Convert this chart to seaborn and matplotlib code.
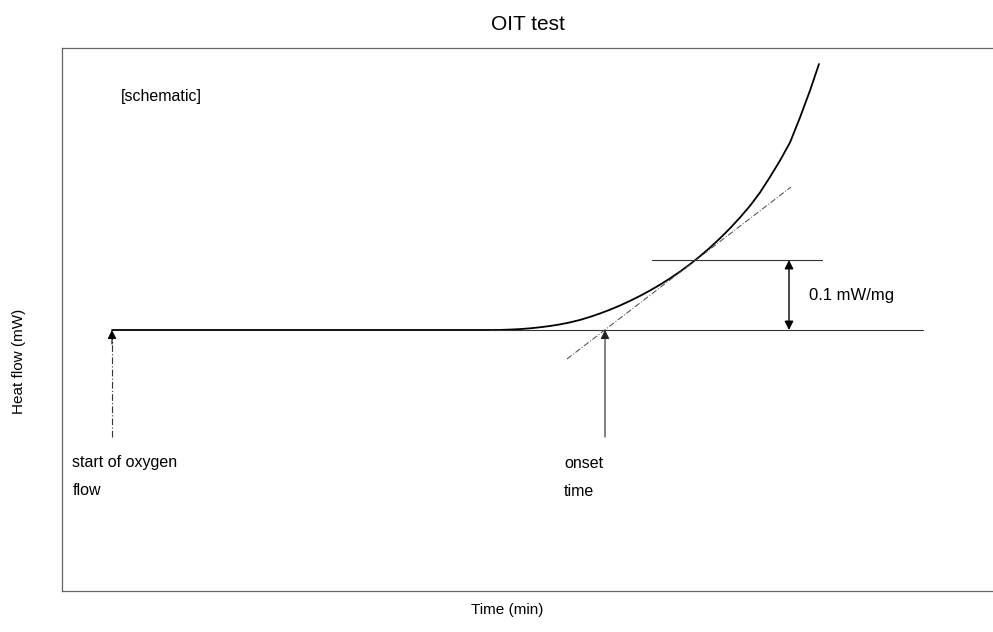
import numpy as np
import pandas as pd
import matplotlib
matplotlib.use("Agg")
import matplotlib.pyplot as plt
import seaborn as sns

# Schematic OIT (oxidation induction time) DSC trace
time_min = [0.0, 18.9, 19.4, 19.9, 20.4, 20.9, 21.4, 21.9, 22.4, 22.9, 23.4,
            23.9, 24.4, 24.9, 25.4, 25.9, 26.4, 26.9, 27.4, 27.9, 28.4, 28.9,
            29.4, 29.9, 30.4, 30.9, 31.4, 31.9, 32.4, 32.9, 33.4, 33.9, 34.4,
            34.9, 35.35]
heat_flow = [0.0, 0.0, 0.0001, 0.0006, 0.0013, 0.0024, 0.0039, 0.0057, 0.0080,
             0.0109, 0.0144, 0.0187, 0.0236, 0.0290, 0.0350, 0.0416, 0.0487,
             0.0564, 0.0647, 0.0737, 0.0834, 0.0940, 0.1054, 0.1177, 0.1310,
             0.1453, 0.1607, 0.1774, 0.1964, 0.2186, 0.2421, 0.2679, 0.3036,
             0.3421, 0.3800]

# construction lines
baseline_x = [18.9, 40.55]
baseline_y = [0.0, 0.0]
tangent_x = [22.75, 33.95]
tangent_y = [-0.0414, 0.2043]
offset_x = [27.0, 35.5]
offset_y = [0.1, 0.1]
offset_level = 0.1
offset_arrow_x = 33.85

oxygen_start = 0.0
onset_time = 24.65
arrow_bottom = -0.153

sns.set_theme(style="white")
plt.rcParams["font.family"] = ["Liberation Sans", "DejaVu Sans"]
plt.rcParams["text.color"] = "black"
plt.rcParams["axes.labelcolor"] = "black"

fig = plt.figure(figsize=(9.93, 6.32), dpi=100)
ax = fig.add_axes([62 / 993, 41 / 632, 931 / 993, 543 / 632])

df = pd.DataFrame({"t": time_min, "q": heat_flow})
sns.lineplot(data=df, x="t", y="q", ax=ax, color="black", linewidth=1.3,
             sort=False, estimator=None)

ax.plot(baseline_x, baseline_y, color="#333333", linewidth=0.8)
ax.plot(offset_x, offset_y, color="#333333", linewidth=0.8)
ax.plot(tangent_x, tangent_y, color="#444444", linewidth=0.7,
        linestyle=(0, (6, 2, 1, 2)))

# start of oxygen flow marker (dash-dot shaft, solid head)
ax.plot([oxygen_start, oxygen_start], [arrow_bottom, -0.012], color="#333333",
        linewidth=0.8, linestyle=(0, (6, 2, 1, 2)))
ax.annotate("", xy=(oxygen_start, 0.0), xytext=(oxygen_start, -0.02),
            arrowprops=dict(arrowstyle="-|>", color="black", lw=0.8,
                            mutation_scale=13, shrinkA=0, shrinkB=0))

# onset time marker
ax.annotate("", xy=(onset_time, 0.0), xytext=(onset_time, arrow_bottom),
            arrowprops=dict(arrowstyle="-|>", color="#222222", lw=0.8,
                            mutation_scale=13, shrinkA=0, shrinkB=0))

# 0.1 mW/mg offset
ax.annotate("", xy=(offset_arrow_x, offset_level), xytext=(offset_arrow_x, 0.0),
            arrowprops=dict(arrowstyle="<|-|>", color="black", lw=1.0,
                            mutation_scale=13, shrinkA=0, shrinkB=0))

txt = dict(fontsize=11.5, color="black", va="center", ha="left")
ax.text(0.45, 0.333, "[schematic]", **txt)
ax.text(-1.98, -0.1886, "start of oxygen", **txt)
ax.text(-1.98, -0.2286, "flow", **txt)
ax.text(22.6, -0.1914, "onset", **txt)
ax.text(22.6, -0.2314, "time", **txt)
ax.text(34.85, 0.0486, "0.1 mW/mg", fontsize=12, color="black",
        va="center", ha="left")

ax.set_xlim(-2.5, 44.05)
ax.set_ylim(-0.3729, 0.4029)
ax.set_xticks([])
ax.set_yticks([])

for side in ["top", "left", "bottom"]:
    ax.spines[side].set_color("#666666")
    ax.spines[side].set_linewidth(0.9)
ax.spines["right"].set_visible(False)

ax.set_title("OIT test", fontsize=15, pad=13, color="black")
ax.set_xlabel("Time (min)", fontsize=11)
ax.set_ylabel("Heat flow (mW)", fontsize=11)
ax.xaxis.set_label_coords((507 - 62) / 931, (591 - 610) / 543)
ax.xaxis.label.set_va("center")
ax.yaxis.set_label_coords((19 - 62) / 931, (591 - 361) / 543)
ax.yaxis.label.set_va("center")

fig.savefig("out.png", dpi=100)
